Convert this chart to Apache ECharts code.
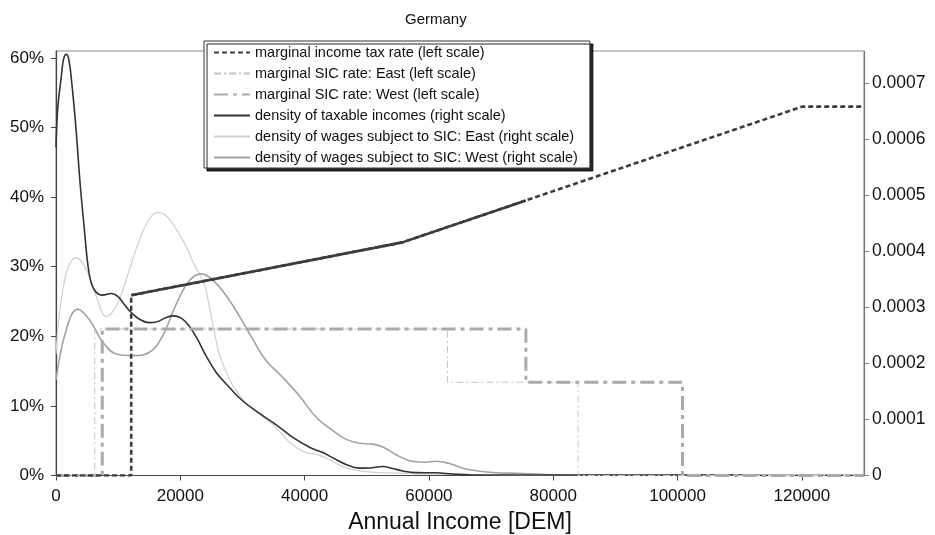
<!DOCTYPE html>
<html>
<head>
<meta charset="utf-8">
<script src="https://cdn.jsdelivr.net/npm/echarts@6/dist/echarts.min.js"></script>
<style>
  html, body { margin: 0; padding: 0; background: #fff; }
  #chart { width: 935px; height: 535px; }
</style>
</head>
<body>
<div id="chart"></div>
<script>
// marginal rates (left scale, in %)
const taxIncome = [0, 12095, 12095, 55727, 75600, 120041, 130000];
const taxRate = [0, 0, 25.9, 33.5, 39.53, 53, 53];

const sicEastIncome = [0, 6240, 6240, 63000, 63000, 84000, 84000, 130000];
const sicEastRate = [0, 0, 21.05, 21.05, 13.4, 13.4, 0, 0];

const sicWestIncome = [0, 7440, 7440, 75600, 75600, 100800, 100800, 130000];
const sicWestRate = [0, 0, 21.05, 21.05, 13.4, 13.4, 0, 0];

// densities (right scale)
const taxableIncome = [0, 290, 840, 1210, 1640, 2060, 2610, 3250, 3890, 4590, 5120, 5660, 6470, 7530, 8880,
    9940, 11020, 12100, 13440, 15040, 16120, 17730, 18790, 20150, 21480, 22820, 24170, 25780, 27920, 30060,
    32740, 35430, 38100, 40790, 42930, 44540, 46690, 48830, 50440, 52580, 54190, 55800, 57960, 61170, 63850,
    66530, 80000, 110000, 115000, 130000];
const taxableDensity = [0.000586, 0.000657, 0.000711, 0.000743, 0.000752, 0.000743, 0.000693, 0.000615, 0.000520,
    0.000436, 0.000377, 0.000344, 0.000327, 0.000322, 0.000325, 0.000320, 0.000305, 0.000291, 0.000279, 0.000273,
    0.000274, 0.000282, 0.000285, 0.000281, 0.000266, 0.000242, 0.000213, 0.000184, 0.000157, 0.000133, 0.000111,
    0.0000905, 0.0000680, 0.0000505, 0.0000410, 0.0000315, 0.0000195, 0.0000132, 0.0000135, 0.0000160, 0.0000125,
    0.0000081, 0.0000052, 0.0000048, 0.0000027, 0.0000012, 0.000001, 0.000001, 0, 0];

const eastIncome = [0, 560, 1640, 2440, 3250, 4860, 6470, 8080, 9690, 11300, 12400, 13440, 15000, 16380, 17900,
    19340, 20950, 22010, 23890, 24700, 25500, 26310, 27920, 29530, 31130, 33270, 35430, 37040, 38650, 40260,
    42400, 44540, 46690, 49910, 52050, 60000, 70000, 80000, 130000];
const eastDensity = [0.000216, 0.000291, 0.000362, 0.000382, 0.000389, 0.000368, 0.000320, 0.000284, 0.000302,
    0.000350, 0.000388, 0.000421, 0.000458, 0.000470, 0.000462, 0.000440, 0.000409, 0.000382, 0.000340, 0.000300,
    0.000255, 0.000216, 0.000172, 0.000143, 0.000123, 0.000105, 0.0000850, 0.0000650, 0.0000500, 0.0000410,
    0.0000360, 0.0000250, 0.0000135, 0.0000068, 0.000005, 0.000003, 0.000001, 0, 0];

const westIncome = [0, 1640, 3510, 5390, 7530, 9690, 12360, 15040, 17180, 19340, 21480, 23360, 25230, 27390,
    29530, 31670, 33820, 36490, 39180, 41870, 44540, 46690, 48830, 50970, 52580, 54740, 56880, 59020, 61170,
    63310, 65450, 67610, 70830, 74050, 77260, 80480, 84000, 130000];
const westDensity = [0.000171, 0.000260, 0.000297, 0.000278, 0.000238, 0.000217, 0.000214, 0.000220, 0.000250,
    0.000306, 0.000348, 0.000360, 0.000349, 0.000321, 0.000284, 0.000243, 0.000205, 0.000175, 0.000142, 0.000104,
    0.0000800, 0.0000645, 0.0000576, 0.0000560, 0.0000510, 0.0000370, 0.0000262, 0.0000236, 0.0000255, 0.0000215,
    0.0000130, 0.0000086, 0.000005, 0.0000039, 0.0000027, 0.0000009, 0, 0];

const xTicks = [0, 20000, 40000, 60000, 80000, 100000, 120000];

const names = [
    'marginal income tax rate (left scale)',
    'marginal SIC rate: East (left scale)',
    'marginal SIC rate: West (left scale)',
    'density of taxable incomes (right scale)',
    'density of wages subject to SIC: East (right scale)',
    'density of wages subject to SIC: West (right scale)'
];

function zip(xs, ys) {
    return xs.map((x, i) => [x, ys[i]]);
}

const font = 'Liberation Sans, Arial, sans-serif';
const chart = echarts.init(document.getElementById('chart'), null, { renderer: 'canvas' });

const taxData = zip(taxIncome, taxRate);

chart.setOption({
    animation: false,
    textStyle: { fontFamily: font },
    title: {
        text: 'Germany',
        left: 400,
        top: 7,
        textStyle: { fontSize: 15, fontWeight: 'normal', color: '#111', fontFamily: font }
    },
    legend: {
        data: names,
        orient: 'vertical',
        left: 204,
        top: 41,
        padding: [4, 12, 3, 9],
        itemWidth: 36,
        itemHeight: 14,
        itemGap: 6,
        backgroundColor: '#fff',
        borderColor: '#333',
        borderWidth: 1,
        shadowColor: 'rgba(0,0,0,0.85)',
        shadowOffsetX: 3,
        shadowOffsetY: 3,
        shadowBlur: 0,
        itemStyle: { opacity: 0 },
        textStyle: { fontSize: 14.5, color: '#111', fontFamily: font }
    },
    grid: {
        left: 56,
        right: 71,
        top: 51,
        bottom: 59.5,
        outerBoundsMode: 'none',
        show: true,
        borderColor: '#888',
        borderWidth: 1
    },
    xAxis: {
        type: 'value',
        min: 0,
        max: 130000,
        interval: 20000,
        name: 'Annual Income [DEM]',
        nameLocation: 'middle',
        nameGap: 36,
        nameTextStyle: { fontSize: 23, color: '#111', fontFamily: font },
        axisLine: { lineStyle: { color: '#444', width: 1.2 } },
        axisTick: { length: 5, lineStyle: { color: '#444' } },
        axisLabel: {
            fontSize: 17, color: '#111', margin: 12, showMaxLabel: false,
            formatter: v => xTicks.includes(v) ? String(v) : ''
        },
        splitLine: { show: false }
    },
    yAxis: [{
        type: 'value',
        min: 0,
        max: 61,
        interval: 10,
        axisLine: { show: true, lineStyle: { color: '#444', width: 1.2 } },
        axisTick: { show: true, length: 5, lineStyle: { color: '#444' } },
        axisLabel: { fontSize: 17, color: '#111', margin: 12, showMaxLabel: false, formatter: '{value}%' },
        splitLine: { show: false }
    }, {
        type: 'value',
        min: 0,
        max: 0.000758,
        interval: 0.0001,
        position: 'right',
        axisLine: { show: true, lineStyle: { color: '#777', width: 1.2 } },
        axisTick: { show: true, length: 5, lineStyle: { color: '#777' } },
        axisLabel: {
            fontSize: 17.5, color: '#111', margin: 8, showMaxLabel: false,
            formatter: v => v === 0 ? '0' : v.toFixed(4)
        },
        splitLine: { show: false }
    }],
    series: [{
        name: names[4],
        type: 'line',
        yAxisIndex: 1,
        data: zip(eastIncome, eastDensity),
        smooth: 0.4,
        symbol: 'none',
        lineStyle: { color: '#cfcfcf', width: 1.2 },
        itemStyle: { color: '#cfcfcf' }
    }, {
        name: names[5],
        type: 'line',
        yAxisIndex: 1,
        data: zip(westIncome, westDensity),
        smooth: 0.4,
        symbol: 'none',
        lineStyle: { color: '#a2a2a2', width: 1.6 },
        itemStyle: { color: '#a2a2a2' }
    }, {
        name: names[3],
        type: 'line',
        yAxisIndex: 1,
        data: zip(taxableIncome, taxableDensity),
        smooth: 0.4,
        symbol: 'none',
        lineStyle: { color: '#333', width: 1.6 },
        itemStyle: { color: '#333' }
    }, {
        name: names[1],
        type: 'line',
        yAxisIndex: 0,
        data: zip(sicEastIncome, sicEastRate),
        symbol: 'none',
        lineStyle: { color: '#c4c4c4', width: 1, type: [7, 3, 2, 3] },
        itemStyle: { color: '#c4c4c4' }
    }, {
        name: names[2],
        type: 'line',
        yAxisIndex: 0,
        data: zip(sicWestIncome, sicWestRate),
        symbol: 'none',
        lineStyle: { color: '#aaaaaa', width: 3, type: [14, 5, 4, 5] },
        itemStyle: { color: '#aaaaaa' }
    }, {
        name: names[0],
        type: 'line',
        yAxisIndex: 0,
        data: taxData,
        symbol: 'none',
        lineStyle: { color: '#3c3c3c', width: 2.6, type: [5, 3] },
        itemStyle: { color: '#3c3c3c' }
    }, {
        // densely sampled part of the tariff shows up solid in the original
        name: 'tax-solid',
        type: 'line',
        yAxisIndex: 0,
        data: taxData.slice(2, 5),
        symbol: 'none',
        lineStyle: { color: '#3c3c3c', width: 2.6 },
        silent: true
    }]
});
</script>
</body>
</html>
